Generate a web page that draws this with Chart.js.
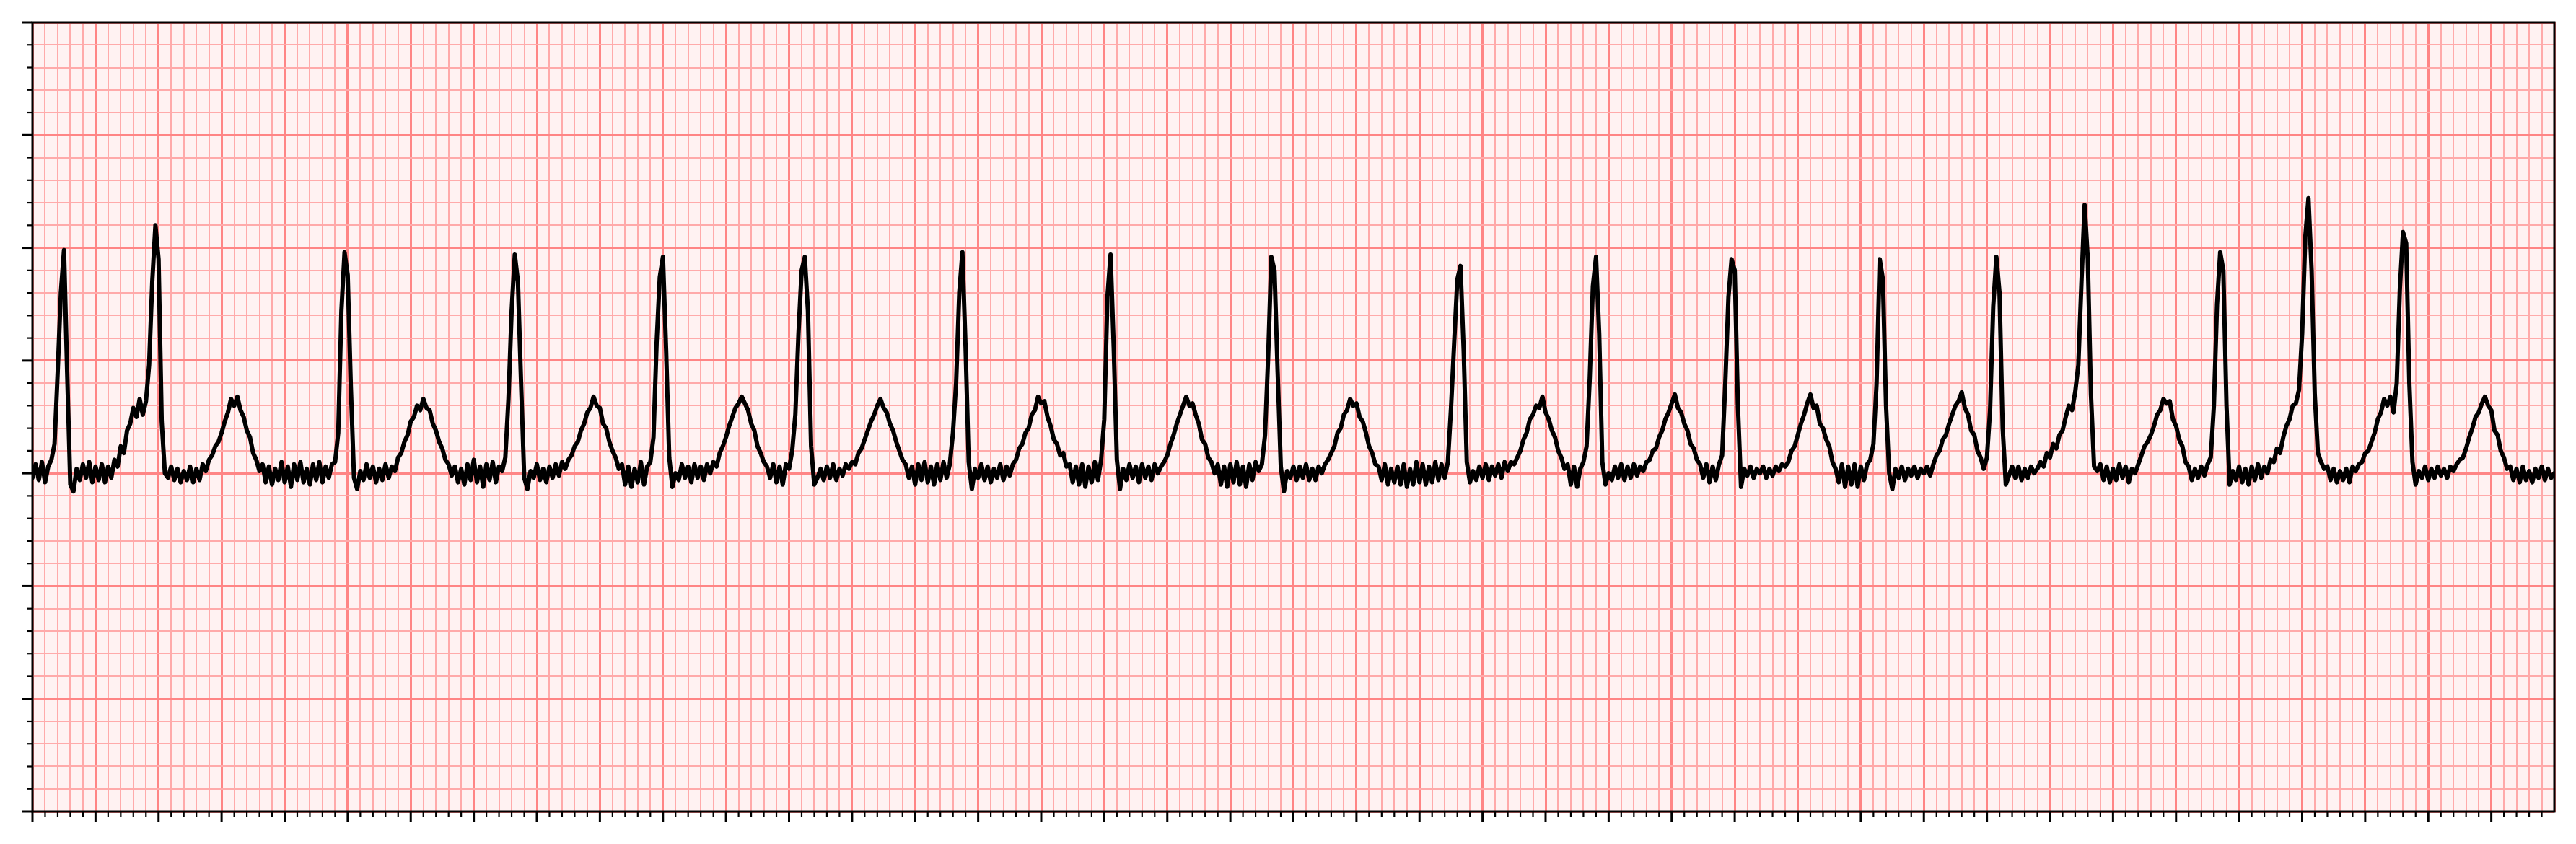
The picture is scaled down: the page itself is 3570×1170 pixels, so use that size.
<!DOCTYPE html>
<html>
<head>
<meta charset="utf-8">
<title>ECG strip</title>
<script src="https://cdn.jsdelivr.net/npm/chart.js@4.4.1/dist/chart.umd.min.js"></script>
<style>
    html, body { margin: 0; padding: 0; background: #ffffff; }
    #ecg { display: block; }
</style>
</head>
<body>
<canvas id="ecg" width="3570" height="1170"></canvas>
<script>
// time axis in seconds, voltage in mV (one small square = 0.04 s / 0.1 mV)
const timeRange = [0, 8];
const voltRange = [-1.5, 2.0];
const minorTimeStep = 0.04;
const majorTimeStep = 0.2;
const minorVoltStep = 0.1;
const majorVoltStep = 0.5;

// one reading every 10 ms, one array per second of the strip
const sampleStep = 0.01;

const mvSecond0 = [
    -0.02, 0.04, -0.03, 0.05, -0.04, 0.03, 0.06, 0.13, 0.45, 0.80,
    0.99, 0.45, -0.05, -0.08, 0.02, -0.03, 0.04, -0.02, 0.05, -0.04,
    0.03, -0.03, 0.04, -0.04, 0.03, -0.02, 0.06, 0.03, 0.12, 0.09,
    0.19, 0.22, 0.29, 0.25, 0.33, 0.26, 0.32, 0.48, 0.85, 1.10,
    0.95, 0.23, 0.00, -0.02, 0.03, -0.03, 0.02, -0.04, 0.01, -0.03,
    0.03, -0.04, 0.02, -0.03, 0.04, 0.01, 0.06, 0.08, 0.12, 0.14,
    0.18, 0.23, 0.27, 0.33, 0.30, 0.34, 0.28, 0.25, 0.19, 0.16,
    0.09, 0.06, 0.01, 0.04, -0.04, 0.03, -0.05, 0.02, -0.03, 0.05,
    -0.04, 0.03, -0.06, 0.04, -0.03, 0.05, -0.04, 0.02, -0.05, 0.04,
    -0.03, 0.05, -0.04, 0.03, -0.02, 0.04, 0.05, 0.18, 0.72, 0.98
];
const mvSecond1 = [
    0.88, 0.38, -0.02, -0.07, 0.01, -0.03, 0.04, -0.02, 0.03, -0.04,
    0.02, -0.03, 0.04, -0.02, 0.03, 0.01, 0.07, 0.09, 0.14, 0.17,
    0.23, 0.25, 0.30, 0.28, 0.33, 0.29, 0.28, 0.22, 0.19, 0.14,
    0.11, 0.06, 0.04, -0.01, 0.03, -0.04, 0.02, -0.05, 0.04, -0.03,
    0.06, -0.04, 0.03, -0.06, 0.04, -0.03, 0.05, -0.04, 0.03, 0.01,
    0.07, 0.33, 0.72, 0.97, 0.85, 0.40, -0.02, -0.07, 0.01, -0.02,
    0.04, -0.03, 0.02, -0.04, 0.03, -0.02, 0.04, -0.01, 0.05, 0.02,
    0.06, 0.08, 0.12, 0.14, 0.19, 0.22, 0.27, 0.29, 0.34, 0.30,
    0.29, 0.22, 0.20, 0.14, 0.10, 0.07, 0.02, 0.04, -0.05, 0.03,
    -0.06, 0.02, -0.04, 0.05, -0.05, 0.03, 0.05, 0.16, 0.58, 0.87
];
const mvSecond2 = [
    0.96, 0.55, 0.07, -0.06, 0.00, -0.03, 0.04, -0.02, 0.03, -0.04,
    0.04, -0.02, 0.03, -0.03, 0.04, 0.00, 0.05, 0.03, 0.09, 0.12,
    0.16, 0.21, 0.25, 0.29, 0.31, 0.34, 0.31, 0.28, 0.22, 0.19,
    0.12, 0.09, 0.05, 0.03, -0.02, 0.04, -0.04, 0.03, -0.05, 0.04,
    0.02, 0.10, 0.26, 0.62, 0.90, 0.96, 0.72, 0.12, -0.05, -0.02,
    0.02, -0.03, 0.03, -0.02, 0.04, -0.03, 0.02, -0.01, 0.04, 0.02,
    0.05, 0.04, 0.09, 0.11, 0.15, 0.19, 0.23, 0.26, 0.30, 0.33,
    0.29, 0.27, 0.22, 0.19, 0.14, 0.10, 0.06, 0.04, -0.02, 0.03,
    -0.05, 0.04, -0.03, 0.05, -0.04, 0.03, -0.05, 0.04, -0.03, 0.05,
    -0.02, 0.04, 0.18, 0.40, 0.80, 0.98, 0.56, 0.05, -0.07, 0.02
];
const mvSecond3 = [
    -0.02, 0.04, -0.03, 0.03, -0.04, 0.02, -0.02, 0.04, -0.03, 0.03,
    -0.01, 0.04, 0.06, 0.11, 0.13, 0.18, 0.20, 0.26, 0.28, 0.34,
    0.31, 0.32, 0.25, 0.21, 0.15, 0.13, 0.08, 0.09, 0.03, 0.04,
    -0.04, 0.03, -0.05, 0.04, -0.06, 0.03, -0.04, 0.05, -0.03, 0.06,
    0.24, 0.78, 0.97, 0.56, 0.06, -0.07, 0.02, -0.03, 0.04, -0.02,
    0.03, -0.04, 0.04, -0.02, 0.03, -0.03, 0.04, 0.00, 0.03, 0.05,
    0.08, 0.13, 0.17, 0.22, 0.26, 0.30, 0.34, 0.30, 0.31, 0.26,
    0.22, 0.15, 0.13, 0.07, 0.05, 0.00, 0.04, -0.05, 0.03, -0.06,
    0.04, -0.04, 0.05, -0.05, 0.03, -0.06, 0.04, -0.03, 0.05, 0.01,
    0.04, 0.17, 0.52, 0.96, 0.90, 0.45, 0.03, -0.08, 0.01, -0.02
];
const mvSecond4 = [
    0.03, -0.03, 0.03, -0.02, 0.04, -0.03, 0.02, -0.03, 0.03, 0.00,
    0.04, 0.06, 0.09, 0.12, 0.18, 0.20, 0.26, 0.28, 0.33, 0.30,
    0.31, 0.25, 0.23, 0.18, 0.12, 0.09, 0.04, 0.03, -0.03, 0.04,
    -0.05, 0.02, -0.04, 0.03, -0.05, 0.04, -0.06, 0.02, -0.05, 0.05,
    -0.04, 0.04, -0.05, 0.03, -0.04, 0.05, -0.03, 0.04, -0.02, 0.05,
    0.29, 0.58, 0.86, 0.92, 0.55, 0.05, -0.04, 0.01, -0.03, 0.03,
    -0.02, 0.04, -0.03, 0.03, -0.01, 0.04, -0.02, 0.05, 0.01, 0.05,
    0.04, 0.07, 0.10, 0.15, 0.18, 0.24, 0.26, 0.30, 0.29, 0.34,
    0.27, 0.24, 0.19, 0.16, 0.10, 0.07, 0.02, 0.04, -0.05, 0.03,
    -0.06, 0.02, 0.05, 0.12, 0.42, 0.83, 0.96, 0.62, 0.05, -0.05
];
const mvSecond5 = [
    0.00, -0.03, 0.03, -0.02, 0.04, -0.03, 0.03, -0.02, 0.04, -0.01,
    0.03, 0.01, 0.05, 0.06, 0.10, 0.11, 0.16, 0.19, 0.24, 0.27,
    0.31, 0.35, 0.29, 0.27, 0.22, 0.19, 0.13, 0.11, 0.06, 0.04,
    -0.02, 0.04, -0.04, 0.03, -0.03, 0.04, 0.08, 0.40, 0.78, 0.95,
    0.90, 0.30, -0.06, 0.02, -0.01, 0.03, -0.02, 0.02, 0.00, 0.03,
    -0.02, 0.02, -0.01, 0.03, 0.01, 0.04, 0.03, 0.05, 0.10, 0.12,
    0.17, 0.22, 0.26, 0.31, 0.35, 0.29, 0.30, 0.22, 0.20, 0.15,
    0.12, 0.05, 0.02, -0.04, 0.04, -0.06, 0.03, -0.05, 0.04, -0.06,
    0.03, -0.03, 0.04, 0.06, 0.13, 0.40, 0.95, 0.86, 0.30, 0.00,
    -0.07, 0.02, -0.02, 0.03, -0.03, 0.02, -0.01, 0.03, -0.02, 0.02
];
const mvSecond6 = [
    0.00, 0.03, -0.01, 0.04, 0.08, 0.10, 0.15, 0.17, 0.22, 0.26,
    0.30, 0.32, 0.36, 0.29, 0.26, 0.19, 0.17, 0.10, 0.07, 0.02,
    0.07, 0.28, 0.74, 0.96, 0.80, 0.20, -0.05, -0.01, 0.03, -0.02,
    0.03, -0.03, 0.02, -0.02, 0.03, 0.00, 0.02, 0.05, 0.03, 0.09,
    0.07, 0.13, 0.11, 0.17, 0.19, 0.25, 0.30, 0.28, 0.36, 0.48,
    0.85, 1.19, 0.95, 0.35, 0.03, 0.01, 0.04, -0.03, 0.03, -0.04,
    0.02, -0.03, 0.04, -0.02, 0.03, -0.04, 0.02, 0.00, 0.04, 0.08,
    0.12, 0.14, 0.17, 0.21, 0.26, 0.28, 0.33, 0.31, 0.32, 0.24,
    0.21, 0.15, 0.12, 0.05, 0.03, -0.03, 0.02, -0.02, 0.03, -0.01,
    0.04, 0.07, 0.30, 0.75, 0.98, 0.90, 0.30, -0.05, 0.01, -0.03
];
const mvSecond7 = [
    0.03, -0.04, 0.02, -0.05, 0.03, -0.03, 0.04, -0.02, 0.03, 0.00,
    0.06, 0.05, 0.11, 0.09, 0.16, 0.21, 0.24, 0.30, 0.31, 0.37,
    0.62, 1.05, 1.22, 0.90, 0.35, 0.09, 0.05, 0.02, 0.03, -0.03,
    0.02, -0.04, 0.01, -0.03, 0.02, -0.04, 0.03, 0.01, 0.04, 0.05,
    0.09, 0.10, 0.14, 0.18, 0.24, 0.27, 0.33, 0.30, 0.34, 0.27,
    0.40, 0.82, 1.07, 1.02, 0.40, 0.05, -0.05, 0.01, -0.02, 0.03,
    -0.03, 0.02, -0.02, 0.03, -0.01, 0.02, -0.02, 0.03, 0.01, 0.04,
    0.06, 0.07, 0.11, 0.16, 0.20, 0.25, 0.27, 0.31, 0.34, 0.30,
    0.28, 0.19, 0.17, 0.10, 0.07, 0.02, 0.03, -0.03, 0.02, -0.04,
    0.03, -0.03, 0.01, -0.04, 0.02, -0.02, 0.03, -0.03, 0.02, -0.02
];
const mvEnd = [0.00];

const strip = [mvSecond0, mvSecond1, mvSecond2, mvSecond3, mvSecond4, mvSecond5, mvSecond6, mvSecond7, mvEnd];

const paperColor = '#fff2f2';
const minorGridColor = '#ffaaaa';
const majorGridColor = '#ff8585';

const isMajor = (value, majorStep) => {
    const r = value / majorStep;
    return Math.abs(r - Math.round(r)) < 1e-6;
};

const ecgPoints = [];
strip.forEach((second, s) => {
    second.forEach((mv, i) => {
        ecgPoints.push({ x: +(s + i * sampleStep).toFixed(2), y: mv });
    });
});

// pink paper under the grid, black frame and tick marks on top
const ecgPaper = {
    id: 'ecgPaper',
    beforeDraw(chart) {
        const { ctx, chartArea: a } = chart;
        ctx.save();
        ctx.fillStyle = paperColor;
        ctx.fillRect(a.left, a.top, a.right - a.left, a.bottom - a.top);
        ctx.restore();
    },
    afterDraw(chart) {
        const { ctx, chartArea: a, scales } = chart;
        ctx.save();
        ctx.strokeStyle = '#000000';
        ctx.lineCap = 'butt';

        scales.x.ticks.forEach(t => {
            if (t.value >= timeRange[1]) return;
            const px = scales.x.getPixelForValue(t.value);
            const major = isMajor(t.value, majorTimeStep);
            ctx.lineWidth = major ? 3 : 2.2;
            ctx.beginPath();
            ctx.moveTo(px, a.bottom);
            ctx.lineTo(px, a.bottom + (major ? 15 : 8));
            ctx.stroke();
        });

        scales.y.ticks.forEach(t => {
            const py = scales.y.getPixelForValue(t.value);
            const major = isMajor(t.value, majorVoltStep);
            ctx.lineWidth = major ? 3 : 2.2;
            ctx.beginPath();
            ctx.moveTo(a.left, py);
            ctx.lineTo(a.left - (major ? 15 : 8), py);
            ctx.stroke();
        });

        ctx.lineWidth = 3;
        ctx.strokeRect(a.left, a.top, a.right - a.left, a.bottom - a.top);
        ctx.restore();
    }
};

new Chart(document.getElementById('ecg'), {
    type: 'line',
    data: {
        datasets: [{
            data: ecgPoints,
            borderColor: '#000000',
            borderWidth: 6,
            borderJoinStyle: 'round',
            borderCapStyle: 'round',
            pointRadius: 0,
            tension: 0,
            fill: false
        }]
    },
    options: {
        responsive: false,
        devicePixelRatio: 1,
        animation: false,
        events: [],
        layout: {
            padding: { left: 45, right: 30, top: 31, bottom: 45 }
        },
        plugins: {
            legend: { display: false },
            tooltip: { enabled: false }
        },
        scales: {
            x: {
                type: 'linear',
                min: timeRange[0],
                max: timeRange[1],
                border: { display: false },
                ticks: { display: false, stepSize: minorTimeStep, autoSkip: false, maxTicksLimit: 1000 },
                grid: {
                    drawTicks: false,
                    color: c => isMajor(c.tick.value, majorTimeStep) ? majorGridColor : minorGridColor,
                    lineWidth: c => isMajor(c.tick.value, majorTimeStep) ? 3 : 2
                }
            },
            y: {
                type: 'linear',
                min: voltRange[0],
                max: voltRange[1],
                border: { display: false },
                ticks: { display: false, stepSize: minorVoltStep, autoSkip: false, maxTicksLimit: 1000 },
                grid: {
                    drawTicks: false,
                    color: c => isMajor(c.tick.value, majorVoltStep) ? majorGridColor : minorGridColor,
                    lineWidth: c => isMajor(c.tick.value, majorVoltStep) ? 3 : 2
                }
            }
        }
    },
    plugins: [ecgPaper]
});
</script>
</body>
</html>
